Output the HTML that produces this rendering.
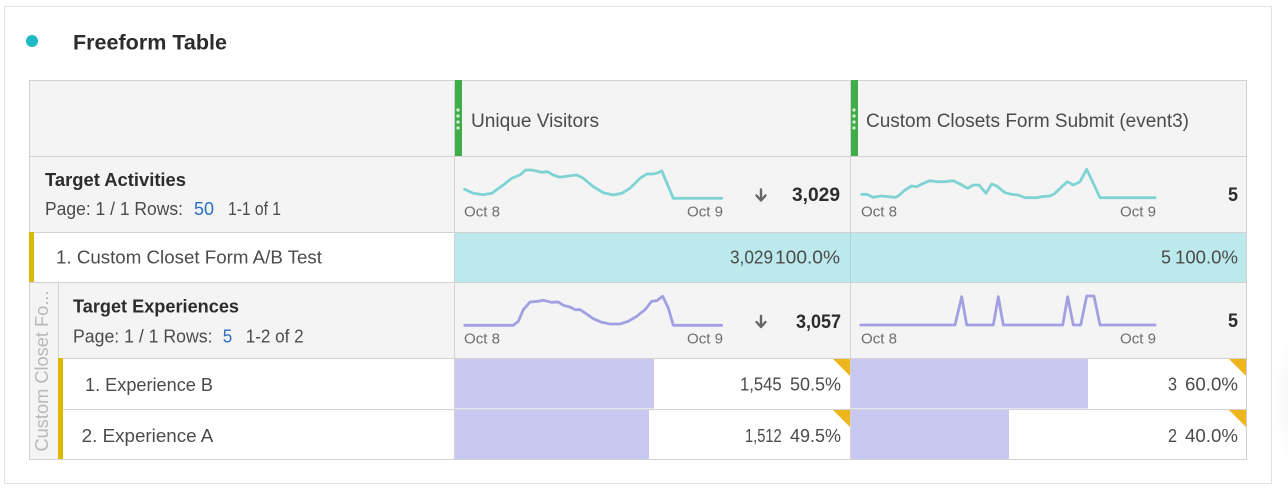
<!DOCTYPE html>
<html>
<head>
<meta charset="utf-8">
<style>
  html,body{margin:0;padding:0;background:#fff;}
  svg{display:block;}
  text{font-family:"Liberation Sans", sans-serif;}
</style>
</head>
<body>
<svg width="1288" height="488" viewBox="0 0 1288 488" xmlns="http://www.w3.org/2000/svg">
  <defs>
    <radialGradient id="sh" cx="0.5" cy="0.5" r="0.5">
      <stop offset="0" stop-color="#000" stop-opacity="0.06"/>
      <stop offset="1" stop-color="#000" stop-opacity="0"/>
    </radialGradient>
  </defs>
  <rect x="0" y="0" width="1288" height="488" fill="#fff"/>
  <!-- right shadow -->
  <ellipse cx="1300" cy="400" rx="26" ry="70" fill="url(#sh)"/>
  <!-- card -->
  <rect x="4.5" y="6.5" width="1267" height="477" fill="#fff" stroke="#e2e2e2" stroke-width="1"/>

  <!-- title -->
  <circle cx="32" cy="41" r="6" fill="#1fb9c3"/>
  <text x="73" y="49.5" font-size="21" font-weight="bold" fill="#2c2c2c" textLength="154" lengthAdjust="spacingAndGlyphs">Freeform Table</text>

  <!-- table backgrounds -->
  <rect x="29" y="80" width="1218" height="152" fill="#f4f4f4"/>
  <rect x="29" y="232" width="425" height="50.5" fill="#fff"/>
  <rect x="454" y="232" width="793" height="50.5" fill="#bce9eb"/>
  <rect x="29" y="282.5" width="29" height="177.5" fill="#f4f4f4"/>
  <rect x="58" y="282.5" width="1189" height="75.5" fill="#f4f4f4"/>
  <rect x="58" y="358" width="1189" height="102" fill="#fff"/>

  <!-- purple bars -->
  <rect x="454" y="358.5" width="200" height="50" fill="#c8c8f0"/>
  <rect x="454" y="409.5" width="195" height="50" fill="#c8c8f0"/>
  <rect x="851" y="358.5" width="237" height="50" fill="#c8c8f0"/>
  <rect x="851" y="409.5" width="158" height="50" fill="#c8c8f0"/>

  <!-- grid lines -->
  <g stroke="#d2d2d2" stroke-width="1" fill="none">
    <rect x="29.5" y="80.5" width="1217" height="379"/>
    <line x1="29" y1="156.5" x2="1247" y2="156.5"/>
    <line x1="29" y1="232.5" x2="1247" y2="232.5"/>
    <line x1="29" y1="282.5" x2="1247" y2="282.5"/>
    <line x1="58" y1="358.5" x2="1247" y2="358.5"/>
    <line x1="63" y1="409.5" x2="1247" y2="409.5"/>
    <line x1="58.5" y1="282" x2="58.5" y2="460"/>
    <line x1="454.5" y1="80" x2="454.5" y2="460"/>
    <line x1="850.5" y1="80" x2="850.5" y2="460"/>
  </g>
  <line x1="850.5" y1="233" x2="850.5" y2="282" stroke="#a8d6d8" stroke-width="1"/>

  <!-- green header bars -->
  <rect x="455" y="80" width="7" height="76" fill="#3fae49"/>
  <rect x="851" y="80" width="7" height="76" fill="#3fae49"/>
  <g fill="#d6f0d8">
    <circle cx="458" cy="110" r="1.6"/><circle cx="458" cy="116" r="1.6"/><circle cx="458" cy="122" r="1.6"/><circle cx="458" cy="128" r="1.6"/>
    <circle cx="854" cy="110" r="1.6"/><circle cx="854" cy="116" r="1.6"/><circle cx="854" cy="122" r="1.6"/><circle cx="854" cy="128" r="1.6"/>
  </g>

  <!-- yellow row bars -->
  <rect x="29" y="232" width="5" height="50" fill="#dcb800"/>
  <rect x="58" y="358" width="5" height="101" fill="#dcb800"/>

  <!-- yellow corner triangles -->
  <g fill="#efb51c">
    <polygon points="833,359 850,359 850,376"/>
    <polygon points="833,410 850,410 850,427"/>
    <polygon points="1229,359 1246,359 1246,376"/>
    <polygon points="1229,410 1246,410 1246,427"/>
  </g>

  <!-- header text -->
  <text x="471" y="127" font-size="19" fill="#4b4b4b" textLength="128" lengthAdjust="spacingAndGlyphs">Unique Visitors</text>
  <text x="866" y="127" font-size="19" fill="#4b4b4b" textLength="323" lengthAdjust="spacingAndGlyphs">Custom Closets Form Submit (event3)</text>

  <!-- Target Activities -->
  <text x="45" y="186" font-size="18" font-weight="bold" fill="#2c2c2c" textLength="141" lengthAdjust="spacingAndGlyphs">Target Activities</text>
  <text x="45" y="215" font-size="18" fill="#4b4b4b" textLength="138" lengthAdjust="spacingAndGlyphs">Page: 1 / 1 Rows:</text>
  <text x="194" y="215" font-size="18" fill="#2d6fc6" textLength="20" lengthAdjust="spacingAndGlyphs">50</text>
  <text x="228" y="215" font-size="18" fill="#4b4b4b" textLength="53" lengthAdjust="spacingAndGlyphs">1-1 of 1</text>

  <!-- sparkline teal col1 -->
  <polyline fill="none" stroke="#7fd3d5" stroke-width="2.8" stroke-linejoin="round" stroke-linecap="round"
    points="464.7,189.3 473.3,193.3 483.3,194.7 491.7,193.3 503.3,185 511.7,178.3 520,175 525.7,170 531.7,170 541.7,172.3 547.3,171.7 553.3,175 560,177.3 568.3,176 576.7,175 583.3,178.3 593.3,186.7 603.3,192.7 613.3,195 621.7,193.3 630,188.3 640,178.3 646.7,174 653.3,174 658.3,172.7 661.7,170.7 673.3,198.3 721.7,198.3"/>
  <text x="464" y="216.5" font-size="15" fill="#6e6e6e" textLength="36" lengthAdjust="spacingAndGlyphs">Oct 8</text>
  <text x="687" y="216.5" font-size="15" fill="#6e6e6e" textLength="36" lengthAdjust="spacingAndGlyphs">Oct 9</text>
  <!-- arrow -->
  <g stroke="#666" stroke-width="2.4" fill="none" stroke-linecap="round" stroke-linejoin="round">
    <line x1="761" y1="189.5" x2="761" y2="200"/>
    <polyline points="756.5,195.5 761,200.5 765.5,195.5"/>
  </g>
  <text x="792" y="201" font-size="19" font-weight="bold" fill="#2c2c2c" textLength="48" lengthAdjust="spacingAndGlyphs">3,029</text>

  <!-- sparkline teal col2 -->
  <polyline fill="none" stroke="#7fd3d5" stroke-width="2.8" stroke-linejoin="round" stroke-linecap="round"
    points="861.7,194.3 866.7,194.3 873.3,197.3 881.7,196 888.3,196.7 895,197.3 898.3,196 905,190 911.7,186 916.7,186.7 923.3,183.3 930,180.7 936.7,181.7 945,181.7 953.3,180.7 960,184 967.7,188.3 973.3,185 979,185 986,193.3 991.7,184 996.7,186 1005,192.7 1011.7,194.3 1018.3,195 1025,197.7 1036.7,197.7 1041.7,196.7 1050,196 1055,193.3 1061.7,186.7 1067.3,181.7 1073.3,185 1080,181.7 1086.7,169.3 1100,197.7 1155,197.7"/>
  <text x="861" y="216.5" font-size="15" fill="#6e6e6e" textLength="36" lengthAdjust="spacingAndGlyphs">Oct 8</text>
  <text x="1120" y="216.5" font-size="15" fill="#6e6e6e" textLength="36" lengthAdjust="spacingAndGlyphs">Oct 9</text>
  <text x="1228" y="201" font-size="19" font-weight="bold" fill="#2c2c2c" textLength="10" lengthAdjust="spacingAndGlyphs">5</text>

  <!-- row 1 -->
  <text x="56" y="263.5" font-size="18.5" fill="#4b4b4b" textLength="266" lengthAdjust="spacingAndGlyphs">1. Custom Closet Form A/B Test</text>
  <text x="730" y="263.5" font-size="18.5" fill="#4b4b4b" textLength="43" lengthAdjust="spacingAndGlyphs">3,029</text>
  <text x="775" y="263.5" font-size="18.5" fill="#4b4b4b" textLength="65" lengthAdjust="spacingAndGlyphs">100.0%</text>
  <text x="1161" y="263.5" font-size="18.5" fill="#4b4b4b" textLength="10" lengthAdjust="spacingAndGlyphs">5</text>
  <text x="1175" y="263.5" font-size="18.5" fill="#4b4b4b" textLength="63" lengthAdjust="spacingAndGlyphs">100.0%</text>

  <!-- vertical label -->
  <text transform="translate(48,451.5) rotate(-90)" x="0" y="0" font-size="18" fill="#b8b8b8" textLength="161" lengthAdjust="spacingAndGlyphs">Custom Closet Fo...</text>

  <!-- Target Experiences -->
  <text x="73" y="312.7" font-size="18" font-weight="bold" fill="#2c2c2c" textLength="166" lengthAdjust="spacingAndGlyphs">Target Experiences</text>
  <text x="73" y="342.7" font-size="18" fill="#4b4b4b" textLength="139.5" lengthAdjust="spacingAndGlyphs">Page: 1 / 1 Rows:</text>
  <text x="222.7" y="342.7" font-size="18" fill="#2d6fc6" textLength="9.5" lengthAdjust="spacingAndGlyphs">5</text>
  <text x="245.7" y="342.7" font-size="18" fill="#4b4b4b" textLength="58" lengthAdjust="spacingAndGlyphs">1-2 of 2</text>

  <!-- sparkline purple col1 -->
  <polyline fill="none" stroke="#a39fe3" stroke-width="2.8" stroke-linejoin="round" stroke-linecap="round"
    points="464.7,325.3 513.3,325.3 518.3,321.3 523.3,309.7 530,302 538.3,301.3 543.3,300.3 551.7,302.3 558.3,302 563.3,305.3 570,307 575,309.7 580,309.7 586.7,314 593.3,318.7 601.7,322.3 610,324 620,324 628.3,321.3 636.7,316.3 645,309.7 651.7,301.3 656.7,300.7 662.7,296.3 668.3,308 673.3,325.3 721.7,325.3"/>
  <text x="464" y="343.3" font-size="15" fill="#6e6e6e" textLength="36" lengthAdjust="spacingAndGlyphs">Oct 8</text>
  <text x="687" y="343.3" font-size="15" fill="#6e6e6e" textLength="36" lengthAdjust="spacingAndGlyphs">Oct 9</text>
  <g stroke="#666" stroke-width="2.4" fill="none" stroke-linecap="round" stroke-linejoin="round">
    <line x1="761" y1="316" x2="761" y2="326.5"/>
    <polyline points="756.5,322 761,327 765.5,322"/>
  </g>
  <text x="796" y="328" font-size="19" font-weight="bold" fill="#2c2c2c" textLength="45" lengthAdjust="spacingAndGlyphs">3,057</text>

  <!-- sparkline purple col2 -->
  <polyline fill="none" stroke="#a39fe3" stroke-width="2.8" stroke-linejoin="round" stroke-linecap="round"
    points="860.7,325 955,325 961.7,296.7 966.7,325 993.3,325 998.3,296.7 1003.3,325 1062.7,325 1067.7,296.7 1073.3,325 1080.7,325 1086.7,296 1094,296 1100,325 1155,325"/>
  <text x="861" y="343.3" font-size="15" fill="#6e6e6e" textLength="36" lengthAdjust="spacingAndGlyphs">Oct 8</text>
  <text x="1120" y="343.3" font-size="15" fill="#6e6e6e" textLength="36" lengthAdjust="spacingAndGlyphs">Oct 9</text>
  <text x="1228" y="327" font-size="19" font-weight="bold" fill="#2c2c2c" textLength="10" lengthAdjust="spacingAndGlyphs">5</text>

  <!-- Experience rows -->
  <text x="85" y="391" font-size="18.5" fill="#4b4b4b" textLength="128" lengthAdjust="spacingAndGlyphs">1. Experience B</text>
  <text x="81.7" y="442" font-size="18.5" fill="#4b4b4b" textLength="131.6" lengthAdjust="spacingAndGlyphs">2. Experience A</text>

  <text x="740" y="390.5" font-size="18.5" fill="#4b4b4b" textLength="41.7" lengthAdjust="spacingAndGlyphs">1,545</text>
  <text x="790" y="390.5" font-size="18.5" fill="#4b4b4b" textLength="51" lengthAdjust="spacingAndGlyphs">50.5%</text>
  <text x="745" y="442" font-size="18.5" fill="#4b4b4b" textLength="36.7" lengthAdjust="spacingAndGlyphs">1,512</text>
  <text x="790" y="442" font-size="18.5" fill="#4b4b4b" textLength="51" lengthAdjust="spacingAndGlyphs">49.5%</text>

  <text x="1168" y="390.5" font-size="18.5" fill="#4b4b4b" textLength="9" lengthAdjust="spacingAndGlyphs">3</text>
  <text x="1185" y="390.5" font-size="18.5" fill="#4b4b4b" textLength="53" lengthAdjust="spacingAndGlyphs">60.0%</text>
  <text x="1168" y="442" font-size="18.5" fill="#4b4b4b" textLength="9" lengthAdjust="spacingAndGlyphs">2</text>
  <text x="1185" y="442" font-size="18.5" fill="#4b4b4b" textLength="53" lengthAdjust="spacingAndGlyphs">40.0%</text>
</svg>
</body>
</html>
